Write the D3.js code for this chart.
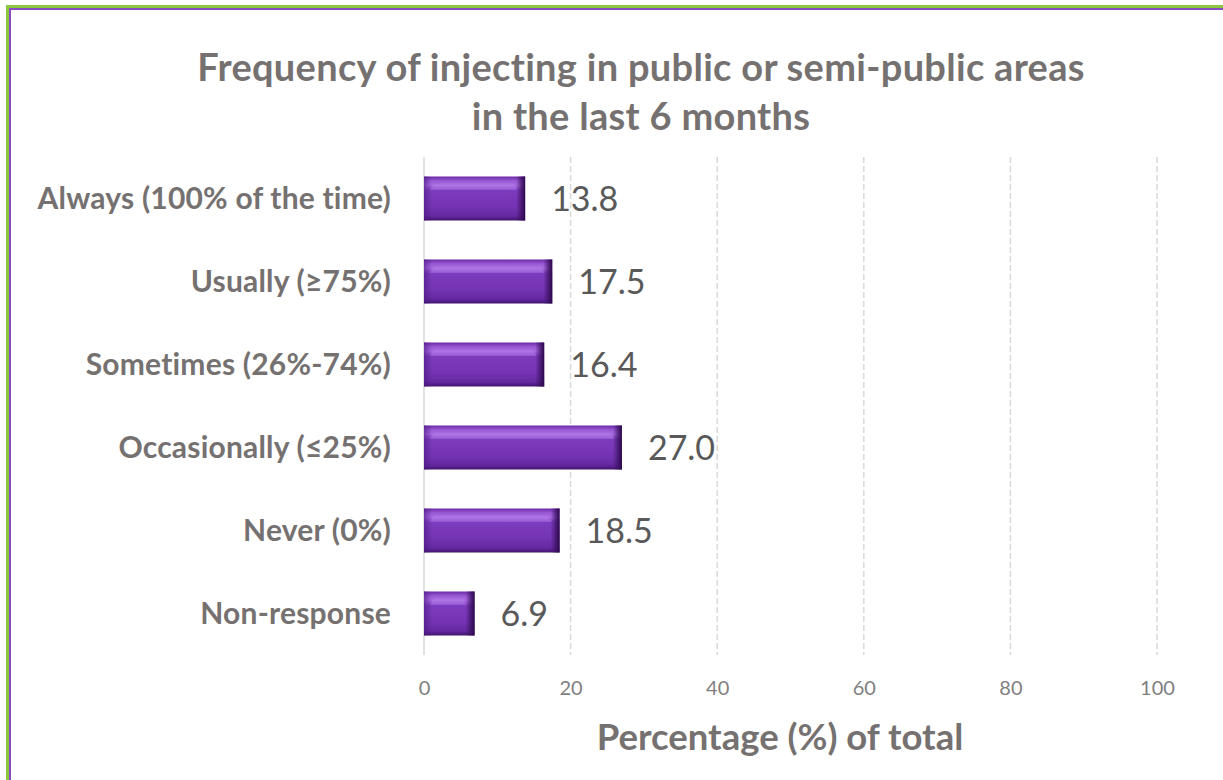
<!DOCTYPE html>
<html>
<head>
<meta charset="utf-8">
<script src="https://cdn.jsdelivr.net/npm/d3@7"></script>
<style>
  html, body { margin: 0; padding: 0; background: #ffffff; }
  svg { display: block; }
  text { font-family: Lato, "Open Sans", sans-serif; }
</style>
</head>
<body>
<svg id="chart" width="1223" height="780"></svg>
<script>
// Survey responses: frequency of injecting in public / semi-public areas
const categories = [
  "Always (100% of the time)",
  "Usually (\u226575%)",
  "Sometimes (26%-74%)",
  "Occasionally (\u226425%)",
  "Never (0%)",
  "Non-response"
];
const values = [13.8, 17.5, 16.4, 27.0, 18.5, 6.9];
const tickValues = [0, 20, 40, 60, 80, 100];
const titleLines = [
  "Frequency of injecting in public or semi-public areas",
  "in the last 6 months"
];
const axisTitle = "Percentage (%) of total";

const W = 1223, H = 780;
const svg = d3.select("#chart");

// Frame: green outer band with a purple inner band (left and top edges)
const frame = svg.append("g");
frame.append("rect").attr("x", 6).attr("y", 5).attr("width", W - 6).attr("height", 3).attr("fill", "#8dc63f");
frame.append("rect").attr("x", 6).attr("y", 5).attr("width", 3).attr("height", H - 5).attr("fill", "#8dc63f");
frame.append("rect").attr("x", 9).attr("y", 8).attr("width", W - 9).attr("height", 2).attr("fill", "#8a4cc0");
frame.append("rect").attr("x", 9).attr("y", 8).attr("width", 2).attr("height", H - 8).attr("fill", "#8a4cc0");

const margin = { left: 424, right: 66, top: 157, bottom: 125 };
const x = d3.scaleLinear().domain([0, 100]).range([margin.left, W - margin.right]);
const y = d3.scaleBand().domain(categories).range([margin.top, H - margin.bottom])
  .paddingInner(0.47).paddingOuter(0.235);

// Gradients for the bevelled bars
const defs = svg.append("defs");
const gv = defs.append("linearGradient").attr("id", "barV").attr("x1", 0).attr("y1", 0).attr("x2", 0).attr("y2", 1);
[[0, "#6a2aa6"], [0.1, "#9a5ad4"], [0.2, "#a86ae0"], [0.32, "#7d3cbd"], [0.7, "#7433b2"], [0.9, "#6428a0"], [1, "#40146e"]]
  .forEach(([o, c]) => gv.append("stop").attr("offset", o).attr("stop-color", c));
const gr = defs.append("linearGradient").attr("id", "barR").attr("x1", 0).attr("y1", 0).attr("x2", 1).attr("y2", 0);
[[0, "#3a1060", 0], [0.6, "#3a1060", 0.75], [1, "#2a0848", 1]]
  .forEach(([o, c, a]) => gr.append("stop").attr("offset", o).attr("stop-color", c).attr("stop-opacity", a));
const gl = defs.append("linearGradient").attr("id", "barL").attr("x1", 0).attr("y1", 0).attr("x2", 1).attr("y2", 0);
[[0, "#4a1880", 0.6], [1, "#4a1880", 0]]
  .forEach(([o, c, a]) => gl.append("stop").attr("offset", o).attr("stop-color", c).attr("stop-opacity", a));

// Gridlines
const grid = svg.append("g");
grid.selectAll("line").data(tickValues).join("line")
  .attr("x1", d => x(d)).attr("x2", d => x(d))
  .attr("y1", margin.top).attr("y2", H - margin.bottom)
  .attr("stroke", "#d9d9d9")
  .attr("stroke-width", 1.5)
  .attr("stroke-dasharray", d => d === 0 ? null : "6,3");

// X axis tick labels
const xAxis = d3.axisBottom(x).tickValues(tickValues).tickSize(0).tickPadding(0).tickFormat(d3.format("d"));
const xg = svg.append("g").attr("transform", "translate(0,695)").call(xAxis);
xg.select(".domain").remove();
xg.selectAll("text").attr("font-size", 20).attr("fill", "#7f7f7f")
  .attr("font-family", "Lato, sans-serif").attr("dy", "0");

// Y axis category labels
const yAxis = d3.axisLeft(y).tickSize(0).tickPadding(0);
const yg = svg.append("g").attr("transform", "translate(391,0)").call(yAxis);
yg.select(".domain").remove();
yg.selectAll("text").attr("font-size", 30).attr("font-weight", "bold").attr("fill", "#767171")
  .attr("letter-spacing", 0.2)
  .attr("font-family", "Lato, sans-serif").attr("dy", "0.35em");

// Bars
const bars = svg.append("g").selectAll("g").data(values).join("g")
  .attr("transform", (d, i) => `translate(0,${y(categories[i])})`);
const bh = y.bandwidth();
bars.append("rect").attr("x", x(0)).attr("y", 0)
  .attr("width", d => x(d) - x(0)).attr("height", bh).attr("fill", "url(#barV)");
bars.append("rect").attr("x", x(0)).attr("y", 0).attr("width", 8).attr("height", bh).attr("fill", "url(#barL)");
bars.append("rect").attr("x", d => x(d) - 9).attr("y", 0).attr("width", 9).attr("height", bh).attr("fill", "url(#barR)");
// highlight strip along the top bevel
bars.append("path")
  .attr("d", d => {
    const x0 = x(0) + 10, x1 = x(d) - 12;
    return `M${x0},${bh * 0.16}L${x1},${bh * 0.16}L${x1 + 4},${bh * 0.3}L${x0 - 4},${bh * 0.3}Z`;
  })
  .attr("fill", "#b784ea").attr("opacity", 0.4);

// Value labels
bars.append("text")
  .attr("x", d => x(d) + 26).attr("y", bh / 2).attr("dy", "0.36em")
  .attr("font-size", 34).attr("fill", "#595959")
  .text(d => d.toFixed(1));

// Title
svg.append("text").attr("text-anchor", "middle").attr("x", 641).attr("y", 81)
  .attr("font-size", 38).attr("font-weight", "bold").attr("fill", "#767171")
  .attr("letter-spacing", 0.3)
  .selectAll("tspan").data(titleLines).join("tspan")
  .attr("x", 641).attr("dy", (d, i) => i === 0 ? 0 : 49).text(d => d);

// Axis title
svg.append("text").attr("text-anchor", "middle").attr("x", 780).attr("y", 750)
  .attr("font-size", 36.5).attr("font-weight", "bold").attr("fill", "#767171")
  .text(axisTitle);
</script>
</body>
</html>
